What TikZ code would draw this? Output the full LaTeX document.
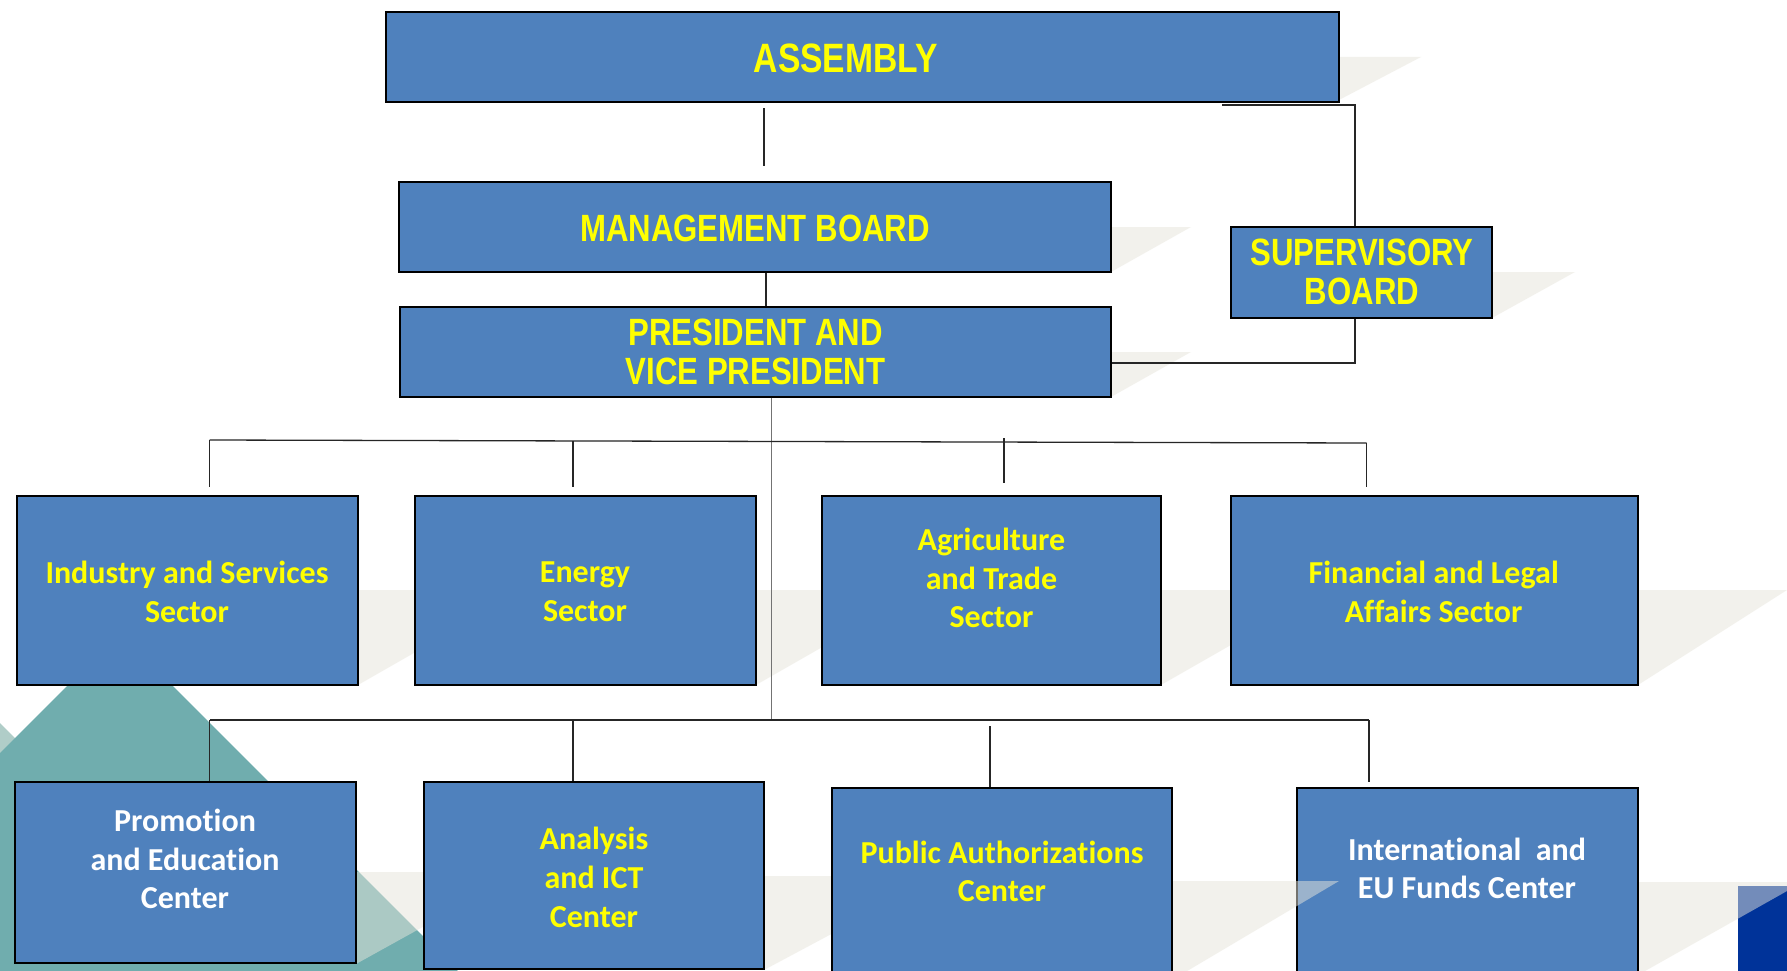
\documentclass[tikz,border=0pt]{standalone}
\usepackage{fontspec}
\newfontfamily\calb[Ligatures={NoCommon}]{Carlito}
\newfontfamily\arnb[FakeStretch=0.82]{Liberation Sans}
\definecolor{boxblue}{HTML}{4F81BD}
\definecolor{txty}{HTML}{FFFF00}
\definecolor{tealD}{HTML}{70ADAE}
\definecolor{tealL}{HTML}{B0CDC8}
\definecolor{wedgec}{HTML}{E7E5DB}
\definecolor{euBlue}{HTML}{003399}
\tikzset{
  box/.style={draw=black, line width=2pt, fill=boxblue, inner sep=0pt, rectangle},
  conn/.style={draw=black!85, line width=1.3pt},
  trunk/.style={draw=black!55, line width=1.3pt},
  wedgefill/.style={fill=wedgec, fill opacity=0.5},
  captxt/.style={text=txty, font=\arnb\bfseries\fontsize{38}{38.8}\selectfont, align=center, inner sep=0pt},
  bigcap/.style={captxt, font=\arnb\bfseries\fontsize{41}{41}\selectfont},
  sectxt/.style={text=txty, font=\calb\bfseries\fontsize{32}{38.8}\selectfont, align=center, inner sep=0pt},
  whitetxt/.style={sectxt, text=white}
}
\begin{document}
\begin{tikzpicture}[x=1pt,y=-1pt]
\fill[white] (0,0) rectangle (1787,971);
\useasboundingbox (0,0) rectangle (1787,971);
\begin{scope}
\clip (0,0) rectangle (1787,971);
% background decoration
\fill[tealL] (0,723) -- (45,768) -- (0,768) -- cycle;
\fill[tealD] (120,633) -- (460,973) -- (-220,973) -- cycle;
\fill[euBlue] (1738,886) rectangle (1790,975);
% wedges
\fill[wedgefill] (1339,57) -- (1421,57) -- (1339,100) -- cycle;
\fill[wedgefill] (1111,227) -- (1191,227) -- (1111,272) -- cycle;
\fill[wedgefill] (1111,352) -- (1191,352) -- (1111,397) -- cycle;
\fill[wedgefill] (1492,272) -- (1575,272) -- (1492,318) -- cycle;
\fill[wedgefill] (358,590) -- (524,590) -- (358,685) -- cycle;
\fill[wedgefill] (756,590) -- (922,590) -- (756,685) -- cycle;
\fill[wedgefill] (1161,590) -- (1327,590) -- (1161,685) -- cycle;
\fill[wedgefill] (1638,590) -- (1787,590) -- (1638,685) -- cycle;
\fill[wedgefill] (356,872) -- (522,872) -- (356,964) -- cycle;
\fill[wedgefill] (764,876) -- (940,876) -- (764,970) -- cycle;
\fill[wedgefill] (1638,882) -- (1803,882) -- (1638,975) -- cycle;

% boxes
\node[box, minimum width=953pt, minimum height=90pt] (asm) at (862.5,57.5) {};
\node[box, minimum width=712pt, minimum height=90pt] (mb) at (755,227) {};
\node[box, minimum width=711pt, minimum height=90pt] (pres) at (755.5,351.5) {};
\node[box, minimum width=261pt, minimum height=91pt] (sup) at (1361.5,272.5) {};
\node[box, minimum width=341pt, minimum height=189pt] (ind) at (187.5,590.5) {};
\node[box, minimum width=341pt, minimum height=189pt] (ene) at (585.5,590.5) {};
\node[box, minimum width=339pt, minimum height=189pt] (agr) at (991.5,590.5) {};
\node[box, minimum width=407pt, minimum height=189pt] (fin) at (1434.5,590.5) {};
\node[box, minimum width=341pt, minimum height=181pt] (pro) at (185.5,872.5) {};
\node[box, minimum width=340pt, minimum height=187pt] (ana) at (594,875.5) {};
\node[box, minimum width=341pt, minimum height=203pt] (int) at (1467.5,889) {};
\fill[wedgefill] (1172,881) -- (1339,881) -- (1172,980) -- cycle;
\node[box, minimum width=340pt, minimum height=203pt] (pub) at (1002,889) {};

% connector points
\coordinate (d1) at (209.7,440);
\coordinate (d2) at (573,441);
\coordinate (d3) at (1004,438);
\coordinate (d4) at (1366.5,443);
\coordinate (e1) at (209.7,720);
\coordinate (e2) at (573,720);
\coordinate (e3) at (990,726);
\coordinate (e4) at (1369,720);
\coordinate (tb) at (771.6,720);

% connectors
\draw[conn, shorten <=5pt, shorten >=15pt] ([xshift=9pt]mb.north |- asm.south) -- ([xshift=9pt]mb.north);
\draw[conn] ([xshift=11pt]mb.south) -- ([xshift=11pt]mb.south |- pres.north);
\draw[conn] ([xshift=-118pt, yshift=-1.5pt]asm.south east) -| ([xshift=-6.5pt]sup.north);
\draw[conn] ([xshift=-6.5pt]sup.south) |- ([yshift=-11.5pt]pres.east);
\draw[trunk] (pres.south -| tb) -- (tb);
\draw[conn] (d1) -- (d4);
\draw[conn, shorten >=8pt] (d1) -- (d1 |- ind.north);
\draw[conn, shorten >=8pt] (d2) -- (d2 |- ene.north);
\draw[conn, shorten >=12pt] (d3) -- (d3 |- agr.north);
\draw[conn, shorten >=8pt] (d4) -- (d4 |- fin.north);
\draw[conn] (e1) -- (e4);
\draw[conn] (e1) -- (e1 |- pro.north);
\draw[conn] (e2) -- (e2 |- ana.north);
\draw[conn] (e3) -- (e3 |- pub.north);
\draw[conn, shorten >=5pt] (e4) -- (e4 |- int.north);
\end{scope}

% texts
\node[bigcap] (asm-t) at (845.7,58) {ASSEMBLY};
\node[captxt] (mb-t) at (755,228) {MANAGEMENT BOARD};
\node[captxt] (pres-t) at (755.5,352) {PRESIDENT AND\\VICE PRESIDENT};
\node[captxt] (sup-t) at (1362,272) {SUPERVISORY\\BOARD};
\node[sectxt] (ind-t) at (187,591.5) {Industry and Services\\Sector};
\node[sectxt] (ene-t) at (585,591.5) {Energy\\Sector};
\node[sectxt] (agr-t) at (991.5,578) {Agriculture\\and Trade\\Sector};
\node[sectxt] (fin-t) at (1433.7,591.5) {Financial and Legal\\Affairs Sector};
\node[whitetxt] (pro-t) at (185,859) {Promotion\\and Education\\Center};
\node[sectxt] (ana-t) at (594,877.6) {Analysis\\and ICT\\Center};
\node[sectxt] (pub-t) at (1002,871.3) {Public Authorizations\\Center};
\node[whitetxt] (int-t) at (1467,868.4) {International~~and\\EU Funds Center};
\end{tikzpicture}
\end{document}
